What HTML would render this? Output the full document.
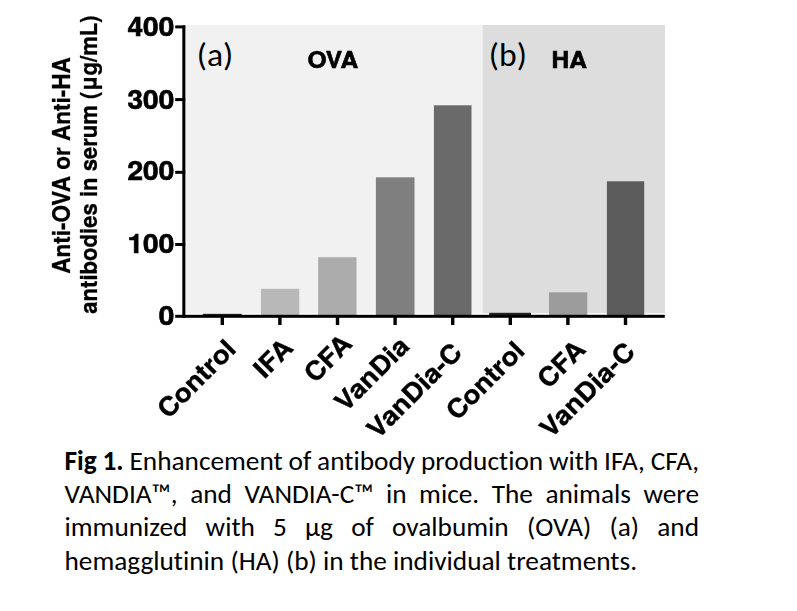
<!DOCTYPE html>
<html>
<head>
<meta charset="utf-8">
<style>
html,body{margin:0;padding:0;background:#fff;}
body{width:797px;height:611px;position:relative;overflow:hidden;}
svg{position:absolute;left:0;top:0;filter:grayscale(1);}
svg.pl{filter:none;}
.ax{font-family:"TeX Gyre Heros","Liberation Sans",Arial,sans-serif;font-weight:bold;fill:#000;stroke:#000;stroke-width:0.6px;}
.cap{position:absolute;left:64.5px;width:634.5px;font-variant-ligatures:none;font-feature-settings:"liga" 0;font-family:Carlito,"Liberation Sans",sans-serif;font-size:27.3px;color:#000;white-space:nowrap;line-height:33px;}
.j{text-align:justify;text-align-last:justify;}
</style>
</head>
<body>
<svg width="797" height="611" viewBox="0 0 797 611">
  <!-- backgrounds -->
  <rect x="186.4" y="25" width="296.2" height="288.3" fill="#f1f1f1"/>
  <rect x="482.6" y="25" width="182.4" height="288.3" fill="#dddddd"/>
  <!-- bars (a) -->
  <rect x="202.8" y="313.8" width="38.9" height="2" fill="#222"/>
  <rect x="260.9" y="288.8" width="38.4" height="27" fill="#b8b8b8"/>
  <rect x="318.1" y="257.2" width="38.4" height="58" fill="#acacac"/>
  <rect x="375.9" y="177.3" width="38.6" height="138" fill="#7f7f7f"/>
  <rect x="433.9" y="105.3" width="37.6" height="210" fill="#6a6a6a"/>
  <!-- bars (b) -->
  <rect x="489.2" y="312.8" width="41.8" height="3" fill="#222"/>
  <rect x="549" y="292.3" width="38.3" height="23" fill="#9c9c9c"/>
  <rect x="606.9" y="181.3" width="37.3" height="134" fill="#5c5c5c"/>
  <!-- y axis -->
  <rect x="182.3" y="25.4" width="3.1" height="292.4" fill="#000"/>
  <!-- y ticks -->
  <rect x="175.2" y="25.4" width="10" height="3" fill="#000"/>
  <rect x="175.2" y="98.1" width="10" height="3" fill="#000"/>
  <rect x="175.2" y="170.8" width="10" height="3" fill="#000"/>
  <rect x="175.2" y="243" width="10" height="3" fill="#000"/>
  <!-- x axis -->
  <rect x="175.2" y="314.8" width="489.6" height="3" fill="#000"/>
  <!-- x ticks -->
  <g fill="#000">
    <rect x="220.6" y="316" width="3.4" height="9"/>
    <rect x="278.2" y="316" width="3.4" height="9"/>
    <rect x="335.8" y="316" width="3.4" height="9"/>
    <rect x="393.4" y="316" width="3.4" height="9"/>
    <rect x="451.0" y="316" width="3.4" height="9"/>
    <rect x="508.6" y="316" width="3.4" height="9"/>
    <rect x="566.2" y="316" width="3.4" height="9"/>
    <rect x="623.8" y="316" width="3.4" height="9"/>
  </g>
  <!-- y tick labels -->
  <g class="ax" font-size="26.5" text-anchor="end">
    <text transform="translate(174.3,35.7) scale(1.06,1)">400</text>
    <text transform="translate(174.3,108.8) scale(1.06,1)">300</text>
    <text transform="translate(174.3,180.3) scale(1.06,1)">200</text>
    <text transform="translate(174.3,252.5) scale(1.06,1)">100</text>
    <text transform="translate(174.3,325.2) scale(1.06,1)">0</text>
  </g>
  <!-- y axis title -->
  <g class="ax" font-size="22.5" text-anchor="middle" style="stroke-width:0.25px">
    <text transform="translate(69.8,165.5) rotate(-90) scale(1,1.07)">Anti-OVA or Anti-HA</text>
    <text font-size="22.1" transform="translate(97.4,164.5) rotate(-90) scale(1,1.07)">antibodies in serum (μg/mL)</text>
  </g>
  <!-- x labels -->
  <g class="ax" font-size="25.8" text-anchor="end" style="stroke-width:0.3px">
    <text transform="translate(237.5,350.5) rotate(-45) scale(1.07,1)">Control</text>
    <text transform="translate(294.6,349.5) rotate(-45) scale(1.07,1)">IFA</text>
    <text transform="translate(353.7,345.2) rotate(-45) scale(1.07,1)">CFA</text>
    <text transform="translate(410.8,347.7) rotate(-45) scale(1.07,1)">VanDia</text>
    <text transform="translate(463.7,354.1) rotate(-45) scale(1.07,1)">VanDia-C</text>
    <text transform="translate(526.3,352.2) rotate(-45) scale(1.07,1)">Control</text>
    <text transform="translate(587.1,350.9) rotate(-45) scale(1.07,1)">CFA</text>
    <text transform="translate(636.6,353.5) rotate(-45) scale(1.07,1)">VanDia-C</text>
  </g>
  <g class="ax" font-size="23">
    <text transform="translate(307.6,68.4) scale(1.068,1)">OVA</text>
    <text transform="translate(551.6,68.3) scale(1.068,1)">HA</text>
  </g>
</svg>
<svg class="pl" width="797" height="611" viewBox="0 0 797 611">
  <g font-family="Carlito,'Liberation Sans',sans-serif" font-size="32.5" fill="#000">
    <text transform="translate(196.8,65.6) scale(1.035,1)">(a)</text>
    <text transform="translate(488.8,65.6) scale(1.035,1)">(b)</text>
  </g>
</svg>
<div class="cap j" style="top:444.2px;word-spacing:-0.6px"><b>Fig 1.</b> Enhancement of antibody production with IFA, CFA,</div>
<div class="cap j" style="top:477.2px">VANDIA™, and VANDIA-C™ in mice. The animals were</div>
<div class="cap j" style="top:510.2px">immunized with 5 μg of ovalbumin (OVA) (a) and</div>
<div class="cap" style="top:543.9px">hemagglutinin (HA) (b) in the individual treatments.</div>
</body>
</html>
